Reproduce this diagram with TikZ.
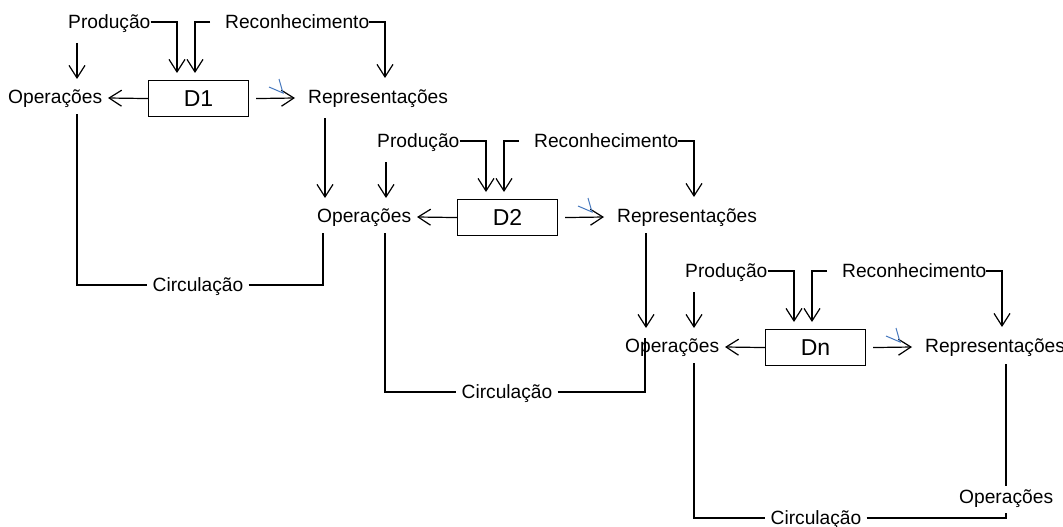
\documentclass[tikz,border=0pt]{standalone}
\usepackage{fontspec}
\setmainfont{Liberation Sans}
\usetikzlibrary{arrows.meta,calc}
\definecolor{markblue}{RGB}{70,120,190}
\tikzset{
  conn/.style={line width=1.2pt, black},
  arr/.style={conn, -{Straight Barb[length=12.5pt,width=16pt]}},
  lbl/.style={inner sep=0pt, font=\fontsize{19.2}{22}\selectfont, text height=13.7pt, text depth=0pt, anchor=west},
  circlbl/.style={lbl, inner xsep=5pt, anchor=center},
  dbox/.style={draw, line width=1.1pt, minimum width=100pt, minimum height=36pt, inner sep=0pt, font=\fontsize{23}{26}\selectfont, anchor=north west},
  bluemark/.style={line width=1pt, markblue}
}
\newcommand\dblock[4]{%
  \coordinate (o#1) at (#2,#3);
  \node[dbox] (d#1) at (o#1) {#4};
  \node[lbl] (prod#1) at ($(o#1)+(-80,-58)$) {Produção};
  \node[lbl] (rec#1) at ($(o#1)+(77,-58)$) {Reconhecimento};
  \node[lbl] (ops#1) at ($(o#1)+(-140,17)$) {Operações};
  \node[lbl] (rep#1) at ($(o#1)+(160,17)$) {Representações};
  \draw[arr] (prod#1.east) -| ($(o#1)+(29,-7)$);
  \draw[arr] ($(rec#1.west)+(-15,0)$) -| ($(o#1)+(47,-7)$);
  \draw[arr] (rec#1.east) -| ($(o#1)+(237,-2)$);
  \draw[arr] ($(o#1)+(-71,-37)$) -- ($(o#1)+(-71,-1)$);
  \draw[arr] (d#1.west) -- ($(o#1)+(-40,18)$);
  \draw[arr] ($(d#1.east)+(7,0)$) -- ($(o#1)+(147,18)$);
  \draw[bluemark] ($(o#1)+(121,7)$) -- ($(o#1)+(135,13)$) -- ($(o#1)+(131,-1)$);
}
\begin{document}
\begin{tikzpicture}[x=1pt,y=-1pt]
  \useasboundingbox (0,0) rectangle (1063,527);
  \dblock{1}{148}{80}{D1}
  \dblock{2}{457}{199}{D2}
  \dblock{3}{765}{329}{Dn}
  \node[lbl] (ops4) at (959,497) {Operações};
  \node[circlbl] (circ1) at (198,285) {Circulação};
  \node[circlbl] (circ2) at (507,392) {Circulação};
  \node[circlbl] (circ3) at (816,518) {Circulação};
  % representations feeding next operations
  \draw[arr] ($(o1)+(177,38)$) -- ($(o1)+(177,118)$);
  \draw[arr] (646,233) -- (646,328);
  \draw[conn] (1006,364) -- (1006,486);
  % circulation loops
  \draw[conn] ($(o1)+(-71,34)$) |- (circ1.west);
  \draw[conn] (circ1.east) -| (323,233);
  \draw[conn] ($(o2)+(-72,34)$) |- (circ2.west);
  \draw[conn] (circ2.east) -| (645,338);
  \draw[conn] ($(o3)+(-71,34)$) |- (circ3.west);
  \draw[conn] (circ3.east) -| (1006,513);
\end{tikzpicture}
\end{document}
